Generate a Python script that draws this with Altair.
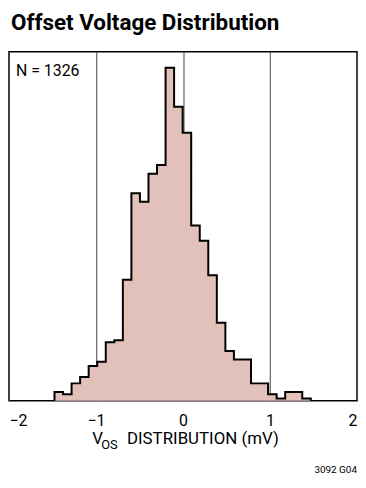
import altair as alt
import pandas as pd

# Histogram (0.1 mV-ish bins from about -1.48 to 1.47 mV)
bin_start = -1.477
bin_width = 0.0982
counts = [4, 3, 8, 11, 16, 18, 27, 28, 56, 96, 92, 105, 109, 154, 136,
          124, 81, 74, 58, 36, 23, 19, 19, 8, 8, 3, 1, 4, 4, 1]
x_ticks = [-2, -1, 0, 1, 2]
title_text = "Offset Voltage Distribution"
n_text = "N = 1326"
note_text = "3092 G04"

edges = [bin_start + i * bin_width for i in range(len(counts) + 1)]

area_df = pd.DataFrame({"x": edges, "c": counts + [counts[-1]]})
line_df = pd.DataFrame({
    "x": [edges[0]] + edges + [edges[-1]],
    "c": [0] + counts + [counts[-1], 0],
})
line_df["i"] = range(len(line_df))

W, H = 351, 352
FONT = "Roboto"
FILL = "#e3c1bb"

xscale = alt.Scale(domain=[-2, 2], nice=False)
yscale = alt.Scale(domain=[0, 161.5], nice=False)

xaxis = alt.Axis(values=x_ticks, title=None, domain=False, ticks=False,
                 grid=True, gridColor="#444", gridWidth=1, gridOpacity=1,
                 labelFlush=True, labelPadding=12, labelFontSize=16,
                 labelFont=FONT, labelColor="black", format="d")

area = alt.Chart(area_df).mark_area(interpolate="step-after", color=FILL, opacity=1).encode(
    x=alt.X("x:Q", scale=xscale, axis=xaxis),
    y=alt.Y("c:Q", scale=yscale, axis=None),
)

line = alt.Chart(line_df).mark_line(interpolate="step-after", color="black", strokeWidth=2).encode(
    x=alt.X("x:Q", scale=xscale),
    y=alt.Y("c:Q", scale=yscale),
    order=alt.Order("i:Q"),
)

one = pd.DataFrame({"k": [0]})


def txt(text, x, y, size, align="left", weight="normal"):
    return alt.Chart(one).mark_text(text=text, align=align, baseline="alphabetic",
                                    font=FONT, fontSize=size, fontWeight=weight,
                                    color="black").encode(x=alt.value(x), y=alt.value(y))


layers = [
    area, line,
    txt(n_text, 7, 25, 16),
    txt(title_text, 2, -22, 22.6, weight="bold"),
    txt("V", 84, 396, 17),
    txt("OS", 93, 401, 13),
    txt("DISTRIBUTION (mV)", 119, 396, 17),
    txt(note_text, 351, 425, 10, align="right"),
]

chart = alt.layer(*layers).properties(
    width=W, height=H,
    autosize=alt.AutoSizeParams(type="none"),
    padding={"left": 1, "top": 42, "right": 1, "bottom": 78},
).configure_view(stroke="black", strokeWidth=1.5)

chart.save("out.html", embed_options={"renderer": "svg", "actions": False})
